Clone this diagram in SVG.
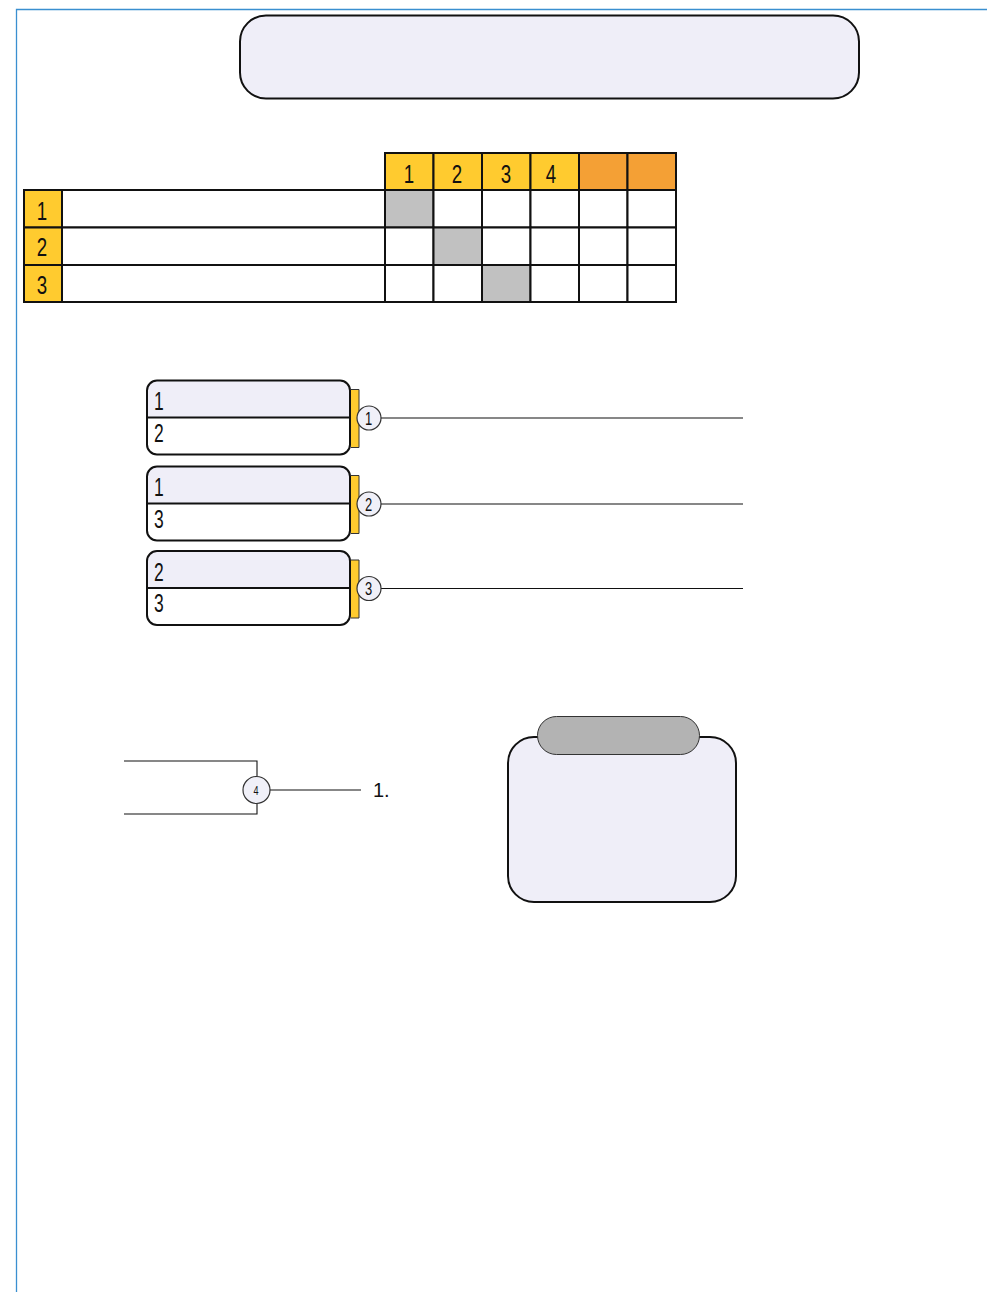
<svg xmlns="http://www.w3.org/2000/svg" width="987" height="1292" viewBox="0 0 987 1292">
<style>
.n{font-family:"Liberation Sans",Arial,sans-serif;fill:#111}
.cell{fill:#fff;stroke:#111;stroke-width:2}
.hy{fill:#ffcb2f;stroke:#111;stroke-width:2}
.ho{fill:#f4a035;stroke:#111;stroke-width:2}
.gr{fill:#c1c1c1;stroke:#111;stroke-width:2}
.ln{stroke:#111;stroke-width:1.1;fill:none}
.circ{fill:#f0f0f8;stroke:#333;stroke-width:1.2}
</style>
<rect width="987" height="1292" fill="#fff"/>
<path d="M16.5 1292 V9.5 H987" fill="none" stroke="#3a8fd0" stroke-width="1.3"/>
<g id="title"><rect x="240" y="15.5" width="619" height="83" rx="26" fill="#efeef8" stroke="#111" stroke-width="2"/></g>
<g id="matrix">
<rect class="hy" x="385" y="153" width="48.5" height="37"/>
<rect class="hy" x="433.5" y="153" width="48.5" height="37"/>
<rect class="hy" x="482" y="153" width="48.5" height="37"/>
<rect class="hy" x="530.5" y="153" width="48.5" height="37"/>
<rect class="ho" x="579" y="153" width="48.5" height="37"/>
<rect class="ho" x="627.5" y="153" width="48.5" height="37"/>
<g font-size="26" text-anchor="middle">
<text class="n" transform="translate(409,183) scale(0.72,1)">1</text>
<text class="n" transform="translate(457,183) scale(0.72,1)">2</text>
<text class="n" transform="translate(506,183) scale(0.72,1)">3</text>
<text class="n" transform="translate(551,183) scale(0.72,1)">4</text>
</g>
<rect class="hy" x="24" y="190" width="38" height="37.5"/>
<rect class="hy" x="24" y="227.5" width="38" height="37.5"/>
<rect class="hy" x="24" y="265" width="38" height="37"/>
<g font-size="26" text-anchor="middle">
<text class="n" transform="translate(42,220) scale(0.72,1)">1</text>
<text class="n" transform="translate(42,256) scale(0.72,1)">2</text>
<text class="n" transform="translate(42,294) scale(0.72,1)">3</text>
</g>
<rect class="cell" x="62" y="190" width="323" height="37.5"/>
<rect class="cell" x="62" y="227.5" width="323" height="37.5"/>
<rect class="cell" x="62" y="265" width="323" height="37"/>
<g>
<rect class="gr" x="385" y="190" width="48.5" height="37.5"/>
<rect class="cell" x="433.5" y="190" width="48.5" height="37.5"/>
<rect class="cell" x="482" y="190" width="48.5" height="37.5"/>
<rect class="cell" x="530.5" y="190" width="48.5" height="37.5"/>
<rect class="cell" x="579" y="190" width="48.5" height="37.5"/>
<rect class="cell" x="627.5" y="190" width="48.5" height="37.5"/>
<rect class="cell" x="385" y="227.5" width="48.5" height="37.5"/>
<rect class="gr" x="433.5" y="227.5" width="48.5" height="37.5"/>
<rect class="cell" x="482" y="227.5" width="48.5" height="37.5"/>
<rect class="cell" x="530.5" y="227.5" width="48.5" height="37.5"/>
<rect class="cell" x="579" y="227.5" width="48.5" height="37.5"/>
<rect class="cell" x="627.5" y="227.5" width="48.5" height="37.5"/>
<rect class="cell" x="385" y="265" width="48.5" height="37"/>
<rect class="cell" x="433.5" y="265" width="48.5" height="37"/>
<rect class="gr" x="482" y="265" width="48.5" height="37"/>
<rect class="cell" x="530.5" y="265" width="48.5" height="37"/>
<rect class="cell" x="579" y="265" width="48.5" height="37"/>
<rect class="cell" x="627.5" y="265" width="48.5" height="37"/>
</g>
</g>
<g id="connectors">
<line class="ln" x1="381" y1="418" x2="743" y2="418"/>
<line class="ln" x1="381" y1="504" x2="743" y2="504"/>
<line class="ln" x1="381" y1="588.5" x2="743" y2="588.5"/>
<path class="ln" d="M124 761 H257 V776 M257 803 V814 H124"/>
<line class="ln" x1="270" y1="790" x2="361" y2="790"/>
</g>
<g id="group1">
<path d="M157 380.5 H340 A10 10 0 0 1 350 390.5 V417.5 H147 V390.5 A10 10 0 0 1 157 380.5 Z" fill="#efeef8"/>
<rect x="147" y="380.5" width="203" height="74" rx="10" fill="none" stroke="#111" stroke-width="2"/>
<line x1="147" y1="417.5" x2="350" y2="417.5" stroke="#111" stroke-width="2"/>
<text class="n" font-size="25" transform="translate(154,410) scale(0.7,1)">1</text>
<text class="n" font-size="25" transform="translate(154,442) scale(0.7,1)">2</text>
<path d="M351 389.5 H359 V447.5 H351 Z" fill="#ffcb2f"/>
<path d="M351 389.5 H359 V447.5 H351" fill="none" stroke="#333" stroke-width="1"/>
<circle class="circ" cx="369" cy="418" r="12"/>
<text class="n" font-size="18" text-anchor="middle" transform="translate(368.5,424.5) scale(0.72,1)">1</text>
</g>
<g id="group2">
<path d="M157 466.5 H340 A10 10 0 0 1 350 476.5 V503.5 H147 V476.5 A10 10 0 0 1 157 466.5 Z" fill="#efeef8"/>
<rect x="147" y="466.5" width="203" height="74" rx="10" fill="none" stroke="#111" stroke-width="2"/>
<line x1="147" y1="503.5" x2="350" y2="503.5" stroke="#111" stroke-width="2"/>
<text class="n" font-size="25" transform="translate(154,496) scale(0.7,1)">1</text>
<text class="n" font-size="25" transform="translate(154,528) scale(0.7,1)">3</text>
<path d="M351 475.5 H359 V533.5 H351 Z" fill="#ffcb2f"/>
<path d="M351 475.5 H359 V533.5 H351" fill="none" stroke="#333" stroke-width="1"/>
<circle class="circ" cx="369" cy="504" r="12"/>
<text class="n" font-size="18" text-anchor="middle" transform="translate(368.5,510.5) scale(0.72,1)">2</text>
</g>
<g id="group3">
<path d="M157 551 H340 A10 10 0 0 1 350 561 V588 H147 V561 A10 10 0 0 1 157 551 Z" fill="#efeef8"/>
<rect x="147" y="551" width="203" height="74" rx="10" fill="none" stroke="#111" stroke-width="2"/>
<line x1="147" y1="588" x2="350" y2="588" stroke="#111" stroke-width="2"/>
<text class="n" font-size="25" transform="translate(154,581) scale(0.7,1)">2</text>
<text class="n" font-size="25" transform="translate(154,612) scale(0.7,1)">3</text>
<path d="M351 560 H359 V618 H351 Z" fill="#ffcb2f"/>
<path d="M351 560 H359 V618 H351" fill="none" stroke="#333" stroke-width="1"/>
<circle class="circ" cx="369" cy="588.5" r="12"/>
<text class="n" font-size="18" text-anchor="middle" transform="translate(368.5,595) scale(0.72,1)">3</text>
</g>
<g id="merge4">
<circle class="circ" cx="256.5" cy="790" r="13.5"/>
<text class="n" font-size="13" text-anchor="middle" transform="translate(256,795) scale(0.7,1)">4</text>
<text class="n" font-size="20" x="373" y="797">1.</text>
</g>
<g id="card">
<rect x="508" y="737" width="228" height="165" rx="26" fill="#efeef8" stroke="#111" stroke-width="2"/>
<rect x="537.5" y="716.5" width="162" height="38" rx="19" fill="#b3b3b3" stroke="#333" stroke-width="1"/>
</g>
</svg>
